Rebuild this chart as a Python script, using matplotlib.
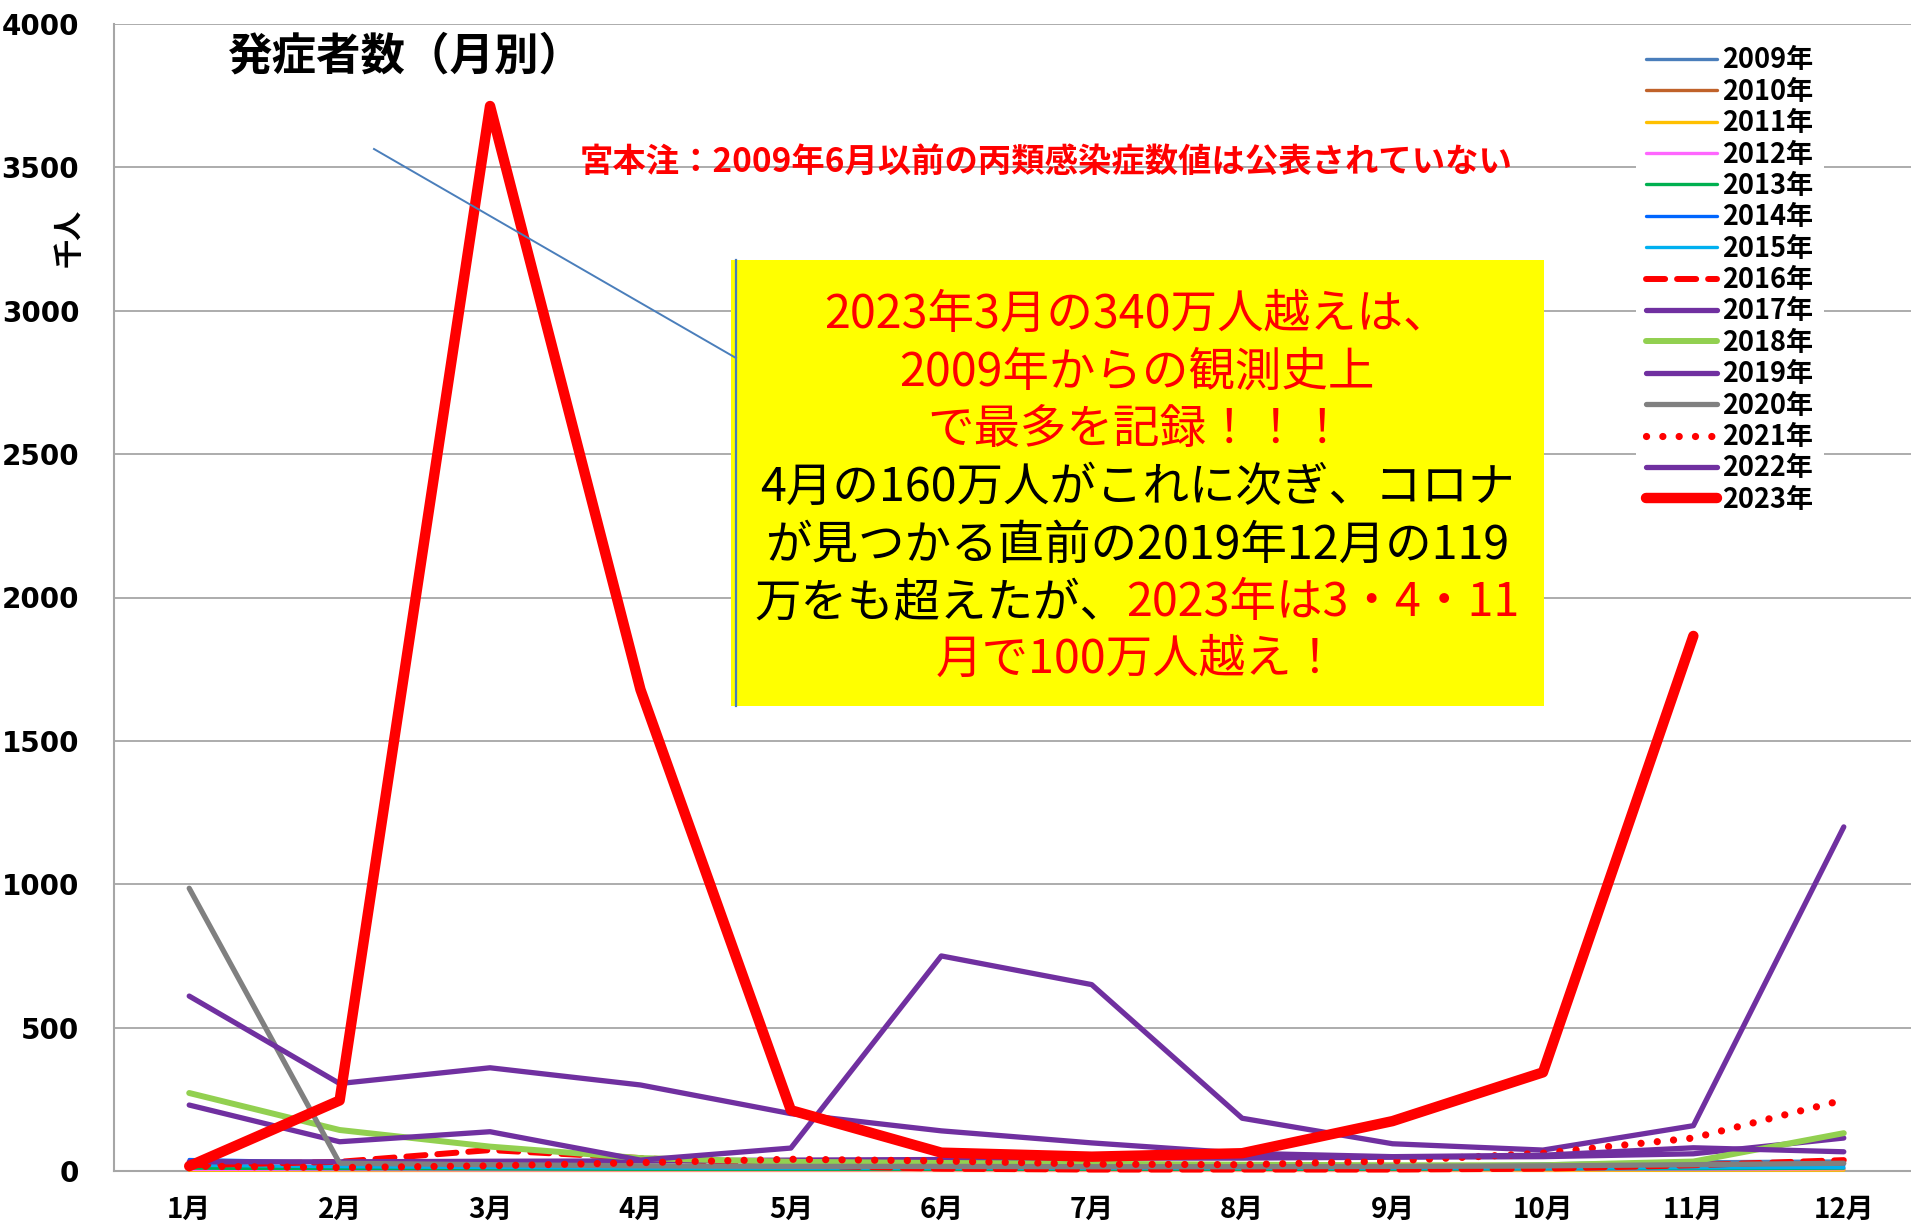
import numpy as np
import matplotlib
matplotlib.use("Agg")
import matplotlib.pyplot as plt
from matplotlib.patches import Rectangle
from matplotlib.lines import Line2D
from matplotlib.offsetbox import TextArea, HPacker, AnnotationBbox

plt.rcParams['font.family'] = ['Noto Sans CJK JP', 'DejaVu Sans']

# ---------------- data (thousand people) ----------------
months = ["1月", "2月", "3月", "4月", "5月", "6月", "7月", "8月", "9月", "10月", "11月", "12月"]
nan = np.nan
y2009 = [nan, nan, nan, nan, nan, 5, 8, 10, 18, 25, 32, 35]
y2010 = [4, 4, 3, 3, 3, 3, 3, 3, 3, 3, 4, 5]
y2011 = [3, 2, 2, 2, 2, 2, 2, 2, 2, 2, 3, 3]
y2012 = [6, 5, 4, 4, 4, 4, 4, 4, 4, 5, 6, 8]
y2013 = [10, 8, 7, 6, 6, 6, 6, 6, 6, 7, 8, 10]
y2014 = [40, 30, 20, 15, 12, 12, 12, 12, 12, 12, 14, 18]
y2015 = [20, 15, 12, 10, 10, 10, 10, 10, 10, 10, 11, 12]
y2016 = [20, 32, 73, 45, 20, 8, 5, 5, 5, 8, 20, 38]
y2017 = [32, 32, 34, 35, 38, 40, 45, 45, 48, 50, 60, 115]
y2018 = [272, 143, 85, 45, 32, 28, 25, 22, 20, 20, 33, 132]
y2019 = [230, 102, 137, 38, 80, 750, 650, 184, 95, 73, 158, 1200]
y2020 = [986, 27, 22, 18, 16, 16, 15, 15, 16, 18, 22, 27]
y2021 = [17, 12, 18, 29, 41, 35, 24, 22, 35, 62, 115, 248]
y2022 = [610, 305, 360, 300, 200, 140, 98, 62, 50, 55, 81, 67]
y2023 = [17, 246, 3714, 1679, 212, 64, 50, 62, 174, 344, 1866, nan]

years = ["2009年", "2010年", "2011年", "2012年", "2013年", "2014年", "2015年", "2016年",
         "2017年", "2018年", "2019年", "2020年", "2021年", "2022年", "2023年"]
values = [y2009, y2010, y2011, y2012, y2013, y2014, y2015, y2016,
          y2017, y2018, y2019, y2020, y2021, y2022, y2023]

PURPLE = '#7030A0'
styles = [
    dict(color='#4A7EBB', lw=2.4, ls='-'),
    dict(color='#C0622A', lw=2.4, ls='-'),
    dict(color='#FFC000', lw=2.4, ls='-'),
    dict(color='#FF66FF', lw=2.4, ls='-'),
    dict(color='#00B050', lw=2.4, ls='-'),
    dict(color='#0066FF', lw=2.4, ls='-'),
    dict(color='#00B0F0', lw=2.4, ls='-'),
    dict(color='#FF0000', lw=4.3, ls=(0, (3.2, 2.0))),
    dict(color=PURPLE, lw=3.8, ls='-'),
    dict(color='#92D050', lw=4.3, ls='-'),
    dict(color=PURPLE, lw=3.8, ls='-'),
    dict(color='#808080', lw=3.8, ls='-'),
    dict(color='#FF0000', lw=5.2, ls=(0, (0.01, 2.25))),
    dict(color=PURPLE, lw=3.8, ls='-'),
    dict(color='#FF0000', lw=7.5, ls='-'),
]

W, H = 1911, 1232
fig = plt.figure(figsize=(W / 100, H / 100), dpi=100)
ax = fig.add_axes([114 / W, (H - 1171) / H, 1805 / W, (1171 - 24) / H])

x = np.arange(len(months))
handles = []
for i, (lab, vals, st) in enumerate(zip(years, values, styles)):
    ln, = ax.plot(x, vals, color=st['color'], lw=st['lw'], linestyle=st['ls'],
                  solid_capstyle='round', dash_capstyle='round', solid_joinstyle='round',
                  clip_on=False, zorder=2 + i, label=lab)
    handles.append(ln)

ax.set_xlim(-0.5, 11.5)
ax.set_ylim(0, 4000)
ax.set_yticks(np.arange(0, 4001, 500))
ax.set_xticks(x)
ax.set_xticklabels(months, fontsize=20, fontweight='bold', family=['Noto Sans CJK JP'])
for t in ax.get_yticklabels():
    t.set_family(['DejaVu Sans'])
    t.set_fontweight('bold')
    t.set_fontsize(20)
ax.tick_params(axis='both', length=0)
ax.tick_params(axis='y', pad=25)
ax.tick_params(axis='x', pad=18)
ax.grid(axis='y', color='#A6A6A6', lw=1.3, zorder=0)
ax.set_axisbelow(True)
for s in ['top', 'right']:
    ax.spines[s].set_visible(False)
for s in ['left', 'bottom']:
    ax.spines[s].set_color('#A6A6A6')
    ax.spines[s].set_linewidth(1.5)

# y label
fig.text(69 / W, (H - 238) / H, '千人', rotation=90, ha='center', va='center',
         fontsize=21, fontweight='bold')

# legend
leg = ax.legend(handles=handles, loc='upper left',
                bbox_to_anchor=(1622 / W, (H - 22) / H), bbox_transform=fig.transFigure,
                prop={'weight': 'bold', 'size': 19.5, 'family': ['Noto Sans CJK JP']},
                handlelength=2.6, handletextpad=0.2, labelspacing=0.125, borderpad=0.4,
                frameon=True, fancybox=False, facecolor='white', edgecolor='none', framealpha=1)
leg.set_zorder(30)

# title
fig.text(406 / W, (H - 57) / H, '発症者数（月別）', ha='center', va='center',
         fontsize=32, fontweight='bold')

# red note
fig.text(1046 / W, (H - 162) / H, '宮本注：2009年6月以前の丙類感染症数値は公表されていない',
         ha='center', va='center', fontsize=24, fontweight='bold', color='red')

# callout box
box_l, box_r, box_t, box_b = 731, 1544, 260, 706
fig.patches.append(Rectangle((box_l, H - box_b), box_r - box_l, box_b - box_t,
                             transform=None, facecolor='#FFFF00', edgecolor='none', zorder=5))
fig.lines.append(Line2D([736, 736], [H - box_t, H - box_b], transform=None,
                        color='#4A7EBB', lw=1.6, zorder=6))
fig.lines.append(Line2D([374, 736], [H - 149, H - 358], transform=None,
                        color='#4A7EBB', lw=1.4, zorder=6))

cx = 1137
line_y = [315, 373, 430, 488, 546, 603, 660]
fs = 33.5
fig.text(cx / W, (H - line_y[0]) / H, '2023年3月の340万人越えは、', ha='center', va='center',
         fontsize=fs, color='red', zorder=7)
fig.text(cx / W, (H - line_y[1]) / H, '2009年からの観測史上', ha='center', va='center',
         fontsize=fs, color='red', zorder=7)
fig.text(cx / W, (H - line_y[2]) / H, 'で最多を記録！！！', ha='center', va='center',
         fontsize=fs, color='red', zorder=7)
fig.text(cx / W, (H - line_y[3]) / H, '4月の160万人がこれに次ぎ、コロナ', ha='center', va='center',
         fontsize=fs, color='black', zorder=7)
fig.text(cx / W, (H - line_y[4]) / H, 'が見つかる直前の2019年12月の119', ha='center', va='center',
         fontsize=fs, color='black', zorder=7)
ta1 = TextArea('万をも超えたが、', textprops=dict(fontsize=fs, color='black'))
ta2 = TextArea('2023年は3・4・11', textprops=dict(fontsize=fs, color='red'))
pack = HPacker(children=[ta1, ta2], align='baseline', pad=0, sep=0)
ab = AnnotationBbox(pack, (cx, H - line_y[5]), xycoords='figure pixels', frameon=False,
                    box_alignment=(0.5, 0.5), pad=0, annotation_clip=False)
ab.set_zorder(7)
fig.add_artist(ab)
fig.text(cx / W, (H - line_y[6]) / H, '月で100万人越え！', ha='center', va='center',
         fontsize=fs, color='red', zorder=7)

fig.savefig('out.png', dpi=100)
